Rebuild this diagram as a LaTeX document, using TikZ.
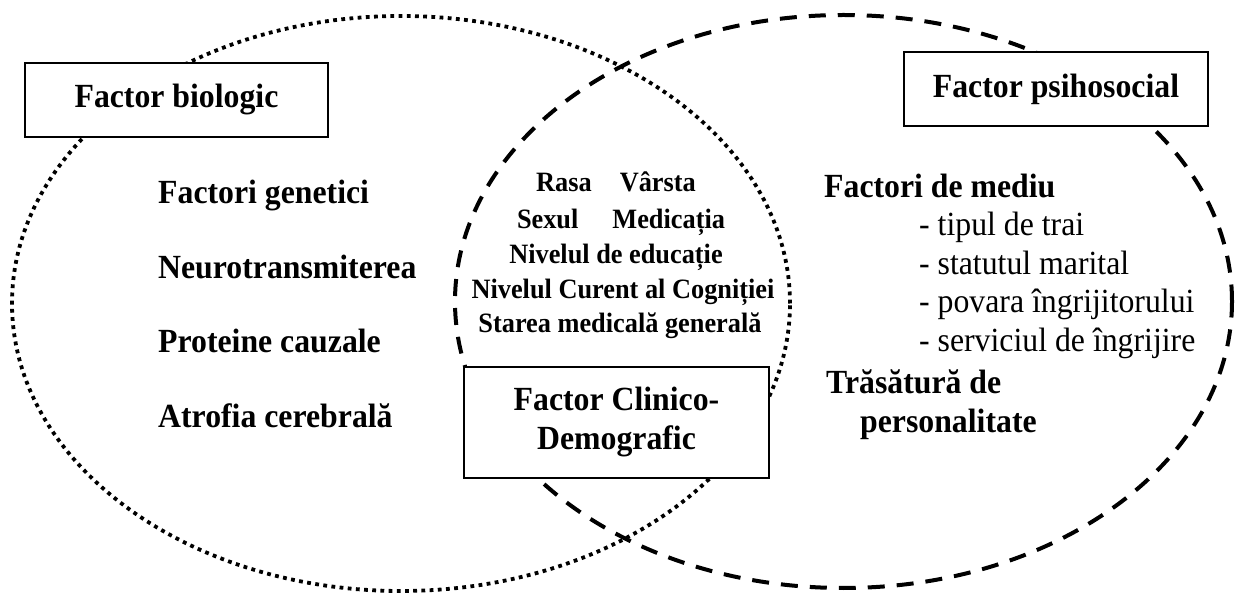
\documentclass[tikz,border=0pt]{standalone}
\usepackage{fontspec}
\setmainfont{Liberation Serif}[FakeStretch=0.94]
\begin{document}
\begin{tikzpicture}[x=1pt,y=-1pt,
  mainf/.style={font=\fontsize{33.8}{38}\selectfont\bfseries},
  regf/.style={font=\fontsize{33.8}{38}\selectfont},
  centf/.style={font=\fontsize{28}{32}\selectfont\bfseries},
  txt/.style={inner sep=0pt, anchor=base west},
  ctxt/.style={inner sep=0pt, anchor=base, centf},
  dotline/.style={line width=3.8pt, dash pattern=on 3.8pt off 4.4pt},
  dashline/.style={line width=4pt, dash pattern=on 17pt off 12pt},
  factorbox/.style={draw, line width=2.5pt, fill=white, inner sep=0pt, mainf, align=center}
]
\useasboundingbox (0,0) rectangle (1235,593);
% circles
\draw[dotline] (401,303.5) ellipse [x radius=389pt, y radius=287.5pt];
\draw[dashline] (843.5,301.5) ellipse [x radius=388.5pt, y radius=286.5pt];
% boxes
\node[factorbox, minimum width=303pt, minimum height=74pt] (bio) at (176.5,100) {\raisebox{1pt}{Factor biologic}};
\node[factorbox, minimum width=304pt, minimum height=74pt] (psi) at (1056,89) {\raisebox{4pt}{Factor psihosocial}};
\node[factorbox, minimum width=305pt, minimum height=111pt] (cli) at (616.5,422.5) {\raisebox{2pt}{\begin{tabular}{@{}c@{}}Factor Clinico-\\[1pt]Demografic\end{tabular}}};
% left texts
\node[txt, mainf] (b1) at (158,204) {Factori genetici};
\node[txt, mainf] (b2) at (158,279) {Neurotransmiterea};
\node[txt, mainf] (b3) at (158,353) {Proteine cauzale};
\node[txt, mainf] (b4) at (158,428) {Atrofia cerebrală};
% centre texts
\node[ctxt] (c1) at (616,192) {Rasa\hspace{28pt}Vârsta};
\node[ctxt] (c2) at (621,229) {Sexul\hspace{34pt}Medicația};
\node[ctxt] (c3) at (616,264) {Nivelul de educație};
\node[ctxt] (c4) at (623,299) {Nivelul Curent al Cogniției};
\node[ctxt] (c5) at (620,333) {Starea medicală generală};
% right texts
\node[txt, mainf] (p1) at (824,198) {Factori de mediu};
\node[txt, regf] (p2) at (919,236) {- tipul de trai};
\node[txt, regf] (p3) at (919,274.5) {- statutul marital};
\node[txt, regf] (p4) at (919,313) {- povara îngrijitorului};
\node[txt, regf] (p5) at (919,351.5) {- serviciul de îngrijire};
\node[txt, mainf] (p6) at (826,394) {Trăsătură de};
\node[txt, mainf] (p7) at (860,433) {personalitate};
\end{tikzpicture}
\end{document}
